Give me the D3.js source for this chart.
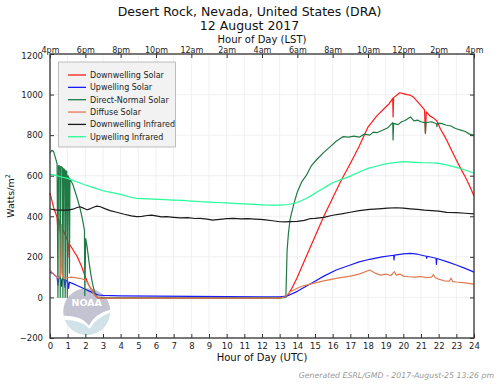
<!DOCTYPE html>
<html>
<head>
<meta charset="utf-8">
<script src="https://cdn.jsdelivr.net/npm/d3@7"></script>
<style>
  body { margin: 0; background: #fff; }
  svg { display: block; font-family: "DejaVu Sans", sans-serif; }
</style>
</head>
<body>
<div id="chart"></div>
<script>
// values: [hour UTC, W/m2]
const downSolar = [[0,515],[0.1,480],[0.2,445],[0.3,420],[0.4,395],[0.45,330],[0.47,390],[0.55,370],[0.6,300],[0.62,355],[0.7,340],[0.8,320],[0.9,300],[0.94,292],[1.0,280],[1.05,250],[1.08,200],[1.1,260],[1.2,250],[1.3,235],[1.4,220],[1.5,208],[1.6,190],[1.7,170],[1.8,150],[1.9,125],[2.0,102],[2.1,80],[2.2,60],[2.3,45],[2.4,35],[2.5,18],[2.6,5],[2.7,-2],[3,-3],[6,-3],[10,-4],[13,-3],[13.3,2],[13.5,15],[13.75,55],[14,100],[14.5,200],[15,300],[15.5,400],[16,490],[16.5,580],[17,660],[17.5,745],[18,840],[18.5,895],[19.02,940],[19.2,955],[19.4,981],[19.42,890],[19.45,985],[19.6,995],[19.8,1009],[20.0,1005],[20.2,1000],[20.4,997],[20.6,985],[20.8,965],[21.0,945],[21.2,925],[21.25,810],[21.3,915],[21.5,895],[21.7,885],[21.9,870],[22.1,830],[22.3,800],[22.45,776],[22.7,730],[23,677],[23.25,635],[23.5,595],[23.75,550],[24,500]];

const upSolar = [[0,125],[0.2,115],[0.4,100],[0.45,60],[0.5,100],[0.6,95],[0.65,55],[0.7,92],[0.8,88],[0.85,50],[0.9,85],[1.0,80],[1.05,45],[1.1,75],[1.3,68],[1.5,60],[1.75,50],[2.0,40],[2.25,30],[2.5,20],[2.75,12],[3,10],[4,8],[6,6],[8,5],[10,4],[12,3],[13,3],[13.4,6],[14,30],[14.5,55],[15,80],[15.5,105],[16.2,135],[17,160],[17.5,175],[18.1,188],[18.8,200],[19.45,208],[19.47,185],[19.5,209],[20,215],[20.4,217],[20.8,213],[21.3,203],[21.32,193],[21.35,203],[21.85,193],[21.87,163],[21.9,192],[22.5,175],[23,160],[23.5,143],[24,125]];

const directNormal = [[0,712],[0.1,725],[0.2,720],[0.3,690],[0.4,660],[0.45,0],[0.48,650],[0.55,648],[0.58,0],[0.62,645],[0.7,640],[0.73,0],[0.77,635],[0.83,630],[0.86,0],[0.9,625],[0.95,620],[0.98,0],[1.02,600],[1.07,590],[1.1,120],[1.13,585],[1.3,555],[1.5,500],[1.7,440],[1.85,380],[1.95,330],[1.97,10],[2.02,290],[2.1,250],[2.2,180],[2.3,120],[2.4,70],[2.5,35],[2.6,10],[2.7,0],[3,-2],[13,-2],[13.35,0],[13.42,230],[13.5,320],[13.6,390],[13.8,460],[14,520],[14.25,570],[14.5,600],[14.8,650],[15.1,680],[15.5,715],[15.85,742],[16.2,770],[16.6,793],[16.9,790],[17.2,795],[17.5,790],[17.8,805],[18.1,800],[18.3,815],[18.5,812],[18.85,825],[19.1,835],[19.4,862],[19.42,776],[19.45,858],[19.7,852],[19.9,866],[20.1,872],[20.4,890],[20.6,870],[20.8,874],[21.0,866],[21.23,862],[21.25,809],[21.28,862],[21.6,866],[21.88,856],[21.9,842],[21.93,858],[22.15,858],[22.4,850],[22.7,845],[22.95,833],[23.25,825],[23.5,818],[23.75,805],[24,800]];

const diffuse = [[0,135],[0.2,115],[0.4,100],[0.5,95],[0.6,110],[0.65,360],[0.68,120],[0.75,95],[0.9,95],[1.0,97],[1.2,100],[1.4,98],[1.6,95],[1.8,92],[2.0,85],[2.1,75],[2.2,60],[2.3,45],[2.4,30],[2.5,15],[2.6,5],[2.8,-2],[3,-3],[13,-3],[13.3,3],[13.6,28],[14,45],[14.3,56],[15,72],[15.5,82],[16.2,94],[17,105],[17.5,115],[18.1,135],[18.4,120],[18.7,110],[19,115],[19.3,108],[19.5,127],[19.6,110],[19.8,115],[20,105],[20.3,102],[20.6,100],[21,103],[21.3,98],[21.6,100],[21.7,112],[21.8,98],[22,90],[22.3,82],[22.6,80],[22.7,95],[22.8,78],[23,76],[23.5,72],[24,66]];

const downIR = [[0,436],[0.3,432],[0.6,430],[1,430],[1.3,435],[1.5,442],[1.7,447],[1.9,440],[2.1,432],[2.3,438],[2.5,446],[2.65,450],[2.85,447],[3.1,438],[3.4,428],[3.77,420],[4.2,410],[4.6,402],[4.9,398],[5.2,400],[5.5,404],[5.75,406],[6,402],[6.3,397],[6.6,398],[7,395],[7.4,392],[7.8,393],[8.2,389],[8.5,390],[8.9,386],[9.2,381],[9.6,385],[10,388],[10.4,390],[10.8,387],[11.2,388],[11.6,386],[11.9,385],[12.2,382],[12.6,378],[13,373],[13.3,372],[13.6,374],[14,375],[14.4,380],[14.7,388],[15,390],[15.5,395],[16,405],[16.5,412],[17,420],[17.5,428],[18.1,434],[18.6,437],[19.1,440],[19.6,442],[20,440],[20.4,437],[20.8,434],[21.2,430],[21.6,428],[22,425],[22.45,419],[23,418],[23.5,415],[24,412]];

const upIR = [[0,608],[0.3,602],[0.6,595],[1,587],[1.5,570],[2,554],[2.5,540],[3,526],[3.5,517],[4,508],[4.5,495],[4.9,488],[5.5,486],[6.2,483],[7,480],[7.5,478],[8,475],[8.5,472],[9,470],[9.5,468],[10,466],[10.4,464],[11,461],[11.5,459],[12.1,456],[12.5,455],[13,455],[13.5,458],[14,468],[14.5,488],[15,513],[15.5,540],[16,565],[16.5,582],[17,598],[17.5,618],[18,636],[18.5,648],[19,658],[19.5,665],[20,669],[20.5,667],[21,665],[21.5,664],[22,661],[22.5,652],[23,641],[23.5,628],[24,612]];

const seriesNames = ["Downwelling Solar", "Upwelling Solar", "Direct-Normal Solar", "Diffuse Solar", "Downwelling Infrared", "Upwelling Infrared"];
const seriesColors = ["#ff1a1a", "#1a1aff", "#1f7a45", "#e07b50", "#1a1a1a", "#22ff99"];
const seriesData = [downSolar, upSolar, directNormal, diffuse, downIR, upIR];

const utcTicks = d3.range(0, 25, 1);
const lstTicks = d3.range(0, 25, 2);
const lstLabels = ["4pm","6pm","8pm","10pm","12am","2am","4am","6am","8am","10am","12pm","2pm","4pm"];
const yTicks = [-200, 0, 200, 400, 600, 800, 1000, 1200];

const W = 499, H = 384;
const m = { left: 50, right: 25, top: 54, bottom: 46 };
const iw = W - m.left - m.right, ih = H - m.top - m.bottom;

const svg = d3.select("#chart").append("svg").attr("width", W).attr("height", H);

const x = d3.scaleLinear().domain([0, 24]).range([m.left, m.left + iw]);
const y = d3.scaleLinear().domain([-200, 1200]).range([m.top + ih, m.top]);

// grid
svg.append("g")
  .selectAll("line")
  .data(utcTicks)
  .join("line")
  .attr("x1", d => x(d)).attr("x2", d => x(d))
  .attr("y1", m.top).attr("y2", m.top + ih)
  .attr("stroke", "#ececec").attr("stroke-width", 0.8);
svg.append("g")
  .selectAll("line")
  .data(yTicks)
  .join("line")
  .attr("x1", m.left).attr("x2", m.left + iw)
  .attr("y1", d => y(d)).attr("y2", d => y(d))
  .attr("stroke", "#ececec").attr("stroke-width", 0.8);

// NOAA logo (faded)
const logo = svg.append("g").attr("opacity", 0.85);
const cx = x(2.08), cy = y(-70), r = 23.5;
svg.append("clipPath").attr("id", "lc").append("circle").attr("cx", cx).attr("cy", cy).attr("r", r);
logo.append("circle").attr("cx", cx).attr("cy", cy).attr("r", r).attr("fill", "#c9dfe5");
logo.append("path")
  .attr("clip-path", "url(#lc)")
  .attr("d", `M${cx - r},${cy - r} L${cx + r},${cy - r} L${cx + r},${cy - 2}
     Q${cx + 8},${cy + 2} ${cx + 2},${cy + 14} Q${cx - 4},${cy + 4} ${cx - r},${cy + 4} Z`)
  .attr("fill", "#b9b9cb");
logo.append("path")
  .attr("clip-path", "url(#lc)")
  .attr("d", `M${cx - r},${cy + 4} Q${cx - 4},${cy + 4} ${cx + 2},${cy + 14} Q${cx + 8},${cy + 2} ${cx + r},${cy - 2}
     L${cx + r},${cy + 1} Q${cx + 10},${cy + 5} ${cx + 3},${cy + 17} Q${cx - 6},${cy + 8} ${cx - r},${cy + 8} Z`)
  .attr("fill", "#ffffff");
logo.append("text")
  .attr("x", cx).attr("y", cy - 6)
  .attr("text-anchor", "middle")
  .attr("font-size", 9.5).attr("font-weight", "bold")
  .attr("fill", "#ffffff")
  .text("NOAA");

// lines
const line = d3.line().x(d => x(d[0])).y(d => y(d[1]));
const plot = svg.append("g");
seriesData.forEach((s, i) => {
  plot.append("path")
    .datum(s)
    .attr("fill", "none")
    .attr("stroke", seriesColors[i])
    .attr("stroke-width", 1.2)
    .attr("stroke-linejoin", "round")
    .attr("d", line);
});

// axes
const axB = svg.append("g").attr("transform", `translate(0,${m.top + ih})`)
  .call(d3.axisBottom(x).tickValues(utcTicks).tickFormat(d3.format("d")).tickSize(-4).tickPadding(5));
const axT = svg.append("g").attr("transform", `translate(0,${m.top})`)
  .call(d3.axisTop(x).tickValues(lstTicks).tickFormat((d, i) => lstLabels[i]).tickSize(-4).tickPadding(1.5));
const axL = svg.append("g").attr("transform", `translate(${m.left},0)`)
  .call(d3.axisLeft(y).tickValues(yTicks).tickFormat(d => d < 0 ? "\u2212" + (-d) : d).tickSize(-4).tickPadding(7));
const axR = svg.append("g").attr("transform", `translate(${m.left + iw},0)`)
  .call(d3.axisRight(y).tickValues(yTicks).tickFormat("").tickSize(-4));

[axB, axT, axL, axR].forEach(a => {
  a.select(".domain").remove();
  a.selectAll("line").attr("stroke", "#333");
  a.selectAll("text").attr("font-family", "DejaVu Sans").attr("font-size", 8.5).attr("fill", "#222");
});
axT.selectAll("text").attr("font-size", 8);
// the 1200 label sits just under the first LST label, as in the original
axL.selectAll(".tick").filter(d => d === 1200).select("text").attr("dy", "0.55em");

svg.append("rect")
  .attr("x", m.left).attr("y", m.top).attr("width", iw).attr("height", ih)
  .attr("fill", "none").attr("stroke", "#333").attr("stroke-width", 1.3);

// legend
const lg = svg.append("g");
lg.append("rect").attr("x", 58.5).attr("y", 62).attr("width", 117).attr("height", 85)
  .attr("fill", "#f2f2f2").attr("stroke", "#b0b0b0").attr("stroke-width", 0.8);
seriesNames.forEach((n, i) => {
  const ly = 75 + i * 12.35;
  lg.append("line").attr("x1", 68).attr("x2", 86).attr("y1", ly).attr("y2", ly)
    .attr("stroke", seriesColors[i]).attr("stroke-width", 1.3);
  lg.append("text").attr("x", 90).attr("y", ly + 3).attr("font-size", 8).attr("fill", "#222").text(n);
});

// titles
svg.append("text").attr("x", W / 2).attr("y", 16).attr("text-anchor", "middle")
  .attr("font-size", 12.5).attr("fill", "#111").text("Desert Rock, Nevada, United States (DRA)");
svg.append("text").attr("x", W / 2).attr("y", 29.5).attr("text-anchor", "middle")
  .attr("font-size", 12.5).attr("fill", "#111").text("12 August 2017");
svg.append("text").attr("x", m.left + iw / 2).attr("y", 43).attr("text-anchor", "middle")
  .attr("font-size", 10).attr("fill", "#111").text("Hour of Day (LST)");
svg.append("text").attr("x", m.left + iw / 2).attr("y", 361).attr("text-anchor", "middle")
  .attr("font-size", 10).attr("fill", "#111").text("Hour of Day (UTC)");
const yl = svg.append("text").attr("transform", `translate(14,${m.top + ih / 2}) rotate(-90)`)
  .attr("text-anchor", "middle").attr("font-size", 9.5).attr("fill", "#111");
yl.append("tspan").text("Watts/m");
yl.append("tspan").attr("dy", -4).attr("font-size", 6.5).text("2");

svg.append("text").attr("x", 494).attr("y", 378).attr("text-anchor", "end")
  .attr("font-size", 7.8).attr("font-style", "italic").attr("fill", "#999")
  .text("Generated ESRL/GMD - 2017-August-25 13:26 pm");
</script>
</body>
</html>
